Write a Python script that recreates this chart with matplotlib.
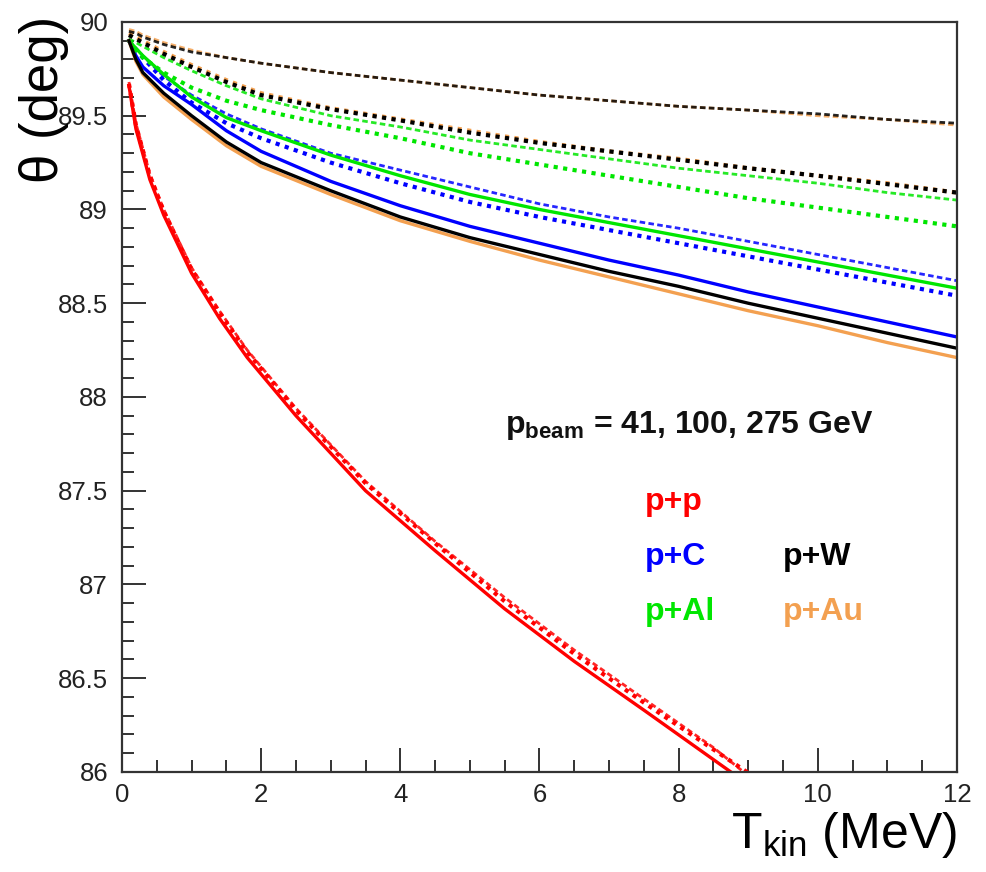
import matplotlib
matplotlib.use("Agg")
from matplotlib import pyplot as plt
from matplotlib.ticker import MultipleLocator

plt.rcParams['font.family'] = ['Liberation Sans', 'DejaVu Sans']
plt.rcParams['mathtext.fontset'] = 'custom'
plt.rcParams['mathtext.rm'] = 'Liberation Sans'
plt.rcParams['mathtext.bf'] = 'Liberation Sans:bold'
plt.rcParams['mathtext.it'] = 'Liberation Sans:italic'

# common T_kin grid (MeV) for the nuclear targets
T = [0.1, 0.2, 0.3, 0.6, 1, 1.5, 2, 3, 4, 5, 6, 7, 8, 9, 10, 11, 12]

# p+C
pC_solid = [89.90, 89.82, 89.76, 89.66, 89.56, 89.42, 89.31, 89.15, 89.02, 88.91, 88.82, 88.73, 88.65, 88.56, 88.48, 88.40, 88.32]
pC_bold = [89.90, 89.85, 89.81, 89.69, 89.57, 89.46, 89.38, 89.25, 89.14, 89.04, 88.96, 88.89, 88.82, 88.75, 88.68, 88.61, 88.54]
pC_fine = [89.90, 89.86, 89.82, 89.71, 89.61, 89.51, 89.43, 89.30, 89.21, 89.12, 89.03, 88.96, 88.90, 88.83, 88.76, 88.69, 88.62]

# p+Al
pAl_solid = [89.90, 89.86, 89.82, 89.72, 89.60, 89.49, 89.42, 89.29, 89.18, 89.08, 89.00, 88.93, 88.86, 88.79, 88.72, 88.65, 88.58]
pAl_bold = [89.90, 89.85, 89.81, 89.73, 89.65, 89.58, 89.53, 89.45, 89.38, 89.30, 89.24, 89.18, 89.12, 89.06, 89.01, 88.96, 88.91]
pAl_fine = [89.91, 89.89, 89.87, 89.81, 89.74, 89.66, 89.59, 89.50, 89.44, 89.37, 89.32, 89.27, 89.22, 89.18, 89.14, 89.09, 89.05]

# p+W
pW_solid = [89.90, 89.80, 89.73, 89.62, 89.50, 89.36, 89.25, 89.10, 88.96, 88.85, 88.76, 88.67, 88.59, 88.50, 88.42, 88.34, 88.26]
pW_bold = [89.93, 89.91, 89.89, 89.83, 89.76, 89.68, 89.61, 89.535, 89.475, 89.41, 89.355, 89.31, 89.265, 89.22, 89.18, 89.135, 89.09]
pW_fine = [89.95, 89.94, 89.92, 89.88, 89.84, 89.81, 89.78, 89.73, 89.69, 89.65, 89.61, 89.58, 89.55, 89.53, 89.51, 89.48, 89.46]

# p+Au
pAu_solid = [89.90, 89.79, 89.72, 89.60, 89.48, 89.34, 89.23, 89.08, 88.94, 88.83, 88.73, 88.64, 88.55, 88.46, 88.38, 88.29, 88.21]
pAu_bold = [89.94, 89.92, 89.90, 89.84, 89.77, 89.69, 89.62, 89.54, 89.48, 89.42, 89.36, 89.31, 89.27, 89.22, 89.18, 89.14, 89.09]
pAu_fine = [89.96, 89.95, 89.93, 89.89, 89.85, 89.81, 89.78, 89.73, 89.69, 89.65, 89.61, 89.58, 89.55, 89.53, 89.50, 89.48, 89.45]

# p+p (own grids, leaves the frame at 86 deg)
pp_T = [0.1, 0.2, 0.4, 0.6, 1.0, 1.4, 1.8, 2.5, 3.5, 4.5, 5.5, 6.5, 7.5, 8.75]
pp_solid = [89.66, 89.43, 89.16, 88.97, 88.66, 88.42, 88.21, 87.90, 87.50, 87.18, 86.87, 86.59, 86.33, 86.00]
pp_T2 = [0.1, 0.2, 0.4, 0.6, 1.0, 1.4, 1.8, 2.5, 3.5, 4.5, 5.5, 6.5, 7.5, 8.5, 9.1]
pp_bold = [89.67, 89.45, 89.18, 88.99, 88.68, 88.45, 88.24, 87.93, 87.54, 87.22, 86.91, 86.63, 86.37, 86.12, 85.97]
pp_fine = [89.68, 89.46, 89.19, 89.00, 88.69, 88.46, 88.25, 87.94, 87.55, 87.23, 86.93, 86.65, 86.39, 86.13, 85.95]

RED = '#ff0000'
BLUE = '#0000ff'
GREEN = '#00e600'
BLACK = '#000000'
ORANGE = '#f3a050'

fig = plt.figure(figsize=(9.87, 8.72), dpi=100)
ax = fig.add_axes([0.1236, 0.1147, 0.846, 0.8601])

solid = dict(lw=2.4, ls='-')
bold = dict(lw=3.0, ls=(0, (1.0, 1.3)))
fine = dict(lw=2.0, ls=(0, (2.0, 1.2)), alpha=0.85)

ax.plot(pp_T, pp_solid, color=RED, **solid)
ax.plot(pp_T2, pp_bold, color=RED, **bold)
ax.plot(pp_T2, pp_fine, color=RED, **fine)

for color, ys in [(BLUE, (pC_solid, pC_bold, pC_fine)),
                  (GREEN, (pAl_solid, pAl_bold, pAl_fine)),
                  (ORANGE, (pAu_solid, pAu_bold, pAu_fine)),
                  (BLACK, (pW_solid, pW_bold, pW_fine))]:
    ax.plot(T, ys[0], color=color, **solid)
    ax.plot(T, ys[1], color=color, **bold)
    ax.plot(T, ys[2], color=color, **fine)

ax.set_xlim(0, 12)
ax.set_ylim(86, 90)
ax.xaxis.set_major_locator(MultipleLocator(2))
ax.xaxis.set_minor_locator(MultipleLocator(0.5))
ax.yaxis.set_major_locator(MultipleLocator(0.5))
ax.yaxis.set_minor_locator(MultipleLocator(0.1))
ax.yaxis.set_major_formatter(plt.FuncFormatter(lambda v, p: ('%g' % v)))

ax.tick_params(which='both', direction='in', top=False, right=False,
               width=1.4, color='#333333', labelsize=18.5, labelcolor='#222222')
ax.tick_params(which='major', length=17.5)
ax.tick_params(which='minor', length=8.5)
ax.tick_params(axis='x', which='major', pad=8)
ax.tick_params(axis='y', which='major', pad=10)
for s in ax.spines.values():
    s.set_linewidth(1.6)
    s.set_color('#333333')

fig.text(0.9696, 0.027, r'$\mathregular{T_{kin}}$ (MeV)', fontsize=36, ha='right', va='baseline')
fig.text(0.045, 0.982, u'\u03b8 (deg)', fontsize=38, rotation=90, ha='center', va='top')

ax.text(0.4587, 0.452, r'$\mathbf{p_{beam}}$ = 41, 100, 275 GeV', transform=ax.transAxes,
        fontsize=23, fontweight='bold', color='#111111')
ax.text(0.626, 0.349, 'p+p', transform=ax.transAxes, fontsize=23, fontweight='bold', color=RED)
ax.text(0.626, 0.276, 'p+C', transform=ax.transAxes, fontsize=23, fontweight='bold', color=BLUE)
ax.text(0.626, 0.203, 'p+Al', transform=ax.transAxes, fontsize=23, fontweight='bold', color=GREEN)
ax.text(0.792, 0.276, 'p+W', transform=ax.transAxes, fontsize=23, fontweight='bold', color=BLACK)
ax.text(0.792, 0.203, 'p+Au', transform=ax.transAxes, fontsize=23, fontweight='bold', color=ORANGE)

fig.savefig('out.png', dpi=100)
